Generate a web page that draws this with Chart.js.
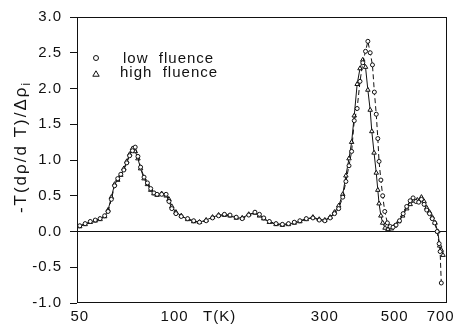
<!DOCTYPE html>
<html><head><meta charset="utf-8">
<script src="https://cdn.jsdelivr.net/npm/chart.js@4.4.1/dist/chart.umd.min.js"></script>
<style>html,body{margin:0;padding:0;background:#fff;}#wrap{width:464px;height:324px;}</style>
</head><body><div id="wrap"><canvas id="c" width="464" height="324"></canvas></div>
<script>
// ---- data ----
const lowT  = [50,52,54,56,58,60,61.5,63,64.5,66,67.5,69,70.5,72,73.5,75,76.5,78,80,82,84,86,88,91,94,96,98,101,105,110,115,120,126,132,138,144,150,157,164,172,180,186,192,200,210,220,230,240,250,262,275,288,300,312,322,332,342,350,358,365,372,380,388,396,404,411,418,425,431,437,442,446,452,458,465,474,484,494,505,518,532,546,560,572,584,596,608,620,632,645,658,670,682,692,697,703];
const lowV  = [0.08,0.11,0.14,0.16,0.18,0.22,0.28,0.45,0.64,0.74,0.80,0.86,0.96,1.06,1.13,1.18,1.05,0.90,0.76,0.68,0.60,0.54,0.52,0.52,0.52,0.42,0.32,0.25,0.21,0.18,0.15,0.13,0.15,0.19,0.22,0.24,0.23,0.20,0.18,0.23,0.27,0.24,0.19,0.14,0.11,0.10,0.11,0.13,0.15,0.18,0.19,0.16,0.15,0.19,0.25,0.32,0.48,0.70,0.92,1.12,1.55,1.72,2.10,2.36,2.52,2.66,2.50,2.33,1.95,1.64,1.30,0.98,0.72,0.50,0.28,0.12,0.07,0.06,0.09,0.15,0.25,0.35,0.43,0.47,0.42,0.41,0.45,0.38,0.30,0.25,0.18,0.12,0.00,-0.17,-0.28,-0.72];
const highT = [50,52,54,56,58,60,61.5,63,64.5,66,67.5,69,70.5,72,73.5,75,76.5,78,80,82,84,86,88,91,94,96,98,101,105,110,115,120,126,132,138,144,150,157,164,172,180,186,192,200,210,220,230,240,250,262,275,288,300,312,322,332,342,350,358,365,372,380,388,396,404,411,418,423,430,437,442,446,452,458,466,476,488,500,515,530,546,560,575,590,608,620,632,645,658,672,685,695,703,712];
const highV = [0.07,0.10,0.13,0.15,0.17,0.21,0.30,0.48,0.66,0.72,0.79,0.88,0.98,1.08,1.16,1.12,1.02,0.88,0.74,0.66,0.58,0.53,0.51,0.53,0.50,0.45,0.35,0.27,0.22,0.17,0.14,0.13,0.16,0.20,0.23,0.23,0.22,0.19,0.19,0.24,0.26,0.22,0.18,0.13,0.10,0.09,0.10,0.12,0.14,0.17,0.20,0.17,0.16,0.20,0.27,0.36,0.52,0.78,1.02,1.25,1.62,2.06,2.28,2.40,2.30,1.98,1.70,1.40,1.10,0.82,0.58,0.39,0.22,0.12,0.05,0.03,0.04,0.08,0.14,0.22,0.32,0.38,0.43,0.44,0.48,0.42,0.33,0.27,0.20,0.12,0.00,-0.20,-0.26,-0.33];
const seriesNames = ['low  fluence', 'high  fluence'];
const xTickValues = [50, 100, 300, 500, 700];
const xTitleText = 'T(K)';
const xTitlePos = 139;
const yTitleText = '-T(d\u03c1/d T)/\u0394\u03c1';
const yTitleSub = 'i';

const FONT = '"Liberation Sans", Arial, Helvetica, sans-serif';
Chart.defaults.font.family = FONT;
const ink = '#111';

const pts = (xs, ys) => xs.map((x, i) => ({x, y: ys[i]}));

const decor = {
  id: 'decor',
  beforeDraw(chart) { chart.ctx.letterSpacing = '1px'; },
  afterDraw(chart) {
    const ctx = chart.ctx, a = chart.chartArea;
    ctx.save();
    ctx.strokeStyle = ink; ctx.lineWidth = 1;
    ctx.strokeRect(Math.round(a.left) + 0.5, Math.round(a.top) + 0.5,
                   Math.round(a.right - a.left) - 1, Math.round(a.bottom - a.top) - 1);
    // y title
    ctx.fillStyle = ink;
    ctx.translate(21, 147);
    ctx.rotate(-Math.PI / 2);
    ctx.letterSpacing = '2px';
    ctx.font = '17px ' + FONT;
    ctx.textBaseline = 'middle';
    ctx.textAlign = 'left';
    const w = ctx.measureText(yTitleText).width;
    ctx.font = '12px ' + FONT;
    const ws = ctx.measureText(yTitleSub).width;
    const x0 = -(w + ws) / 2;
    ctx.font = '17px ' + FONT;
    ctx.fillText(yTitleText, x0, 0);
    ctx.font = '12px ' + FONT;
    ctx.fillText(yTitleSub, x0 + w, 6);
    ctx.restore();
    // legend
    ctx.save();
    ctx.letterSpacing = '1px';
    ctx.font = '15px ' + FONT;
    ctx.fillStyle = ink; ctx.strokeStyle = ink; ctx.lineWidth = 1;
    const rows = [{sy: 58, ty: 63}, {sy: 74, ty: 77}];
    chart.data.datasets.forEach((ds, i) => {
      const r = rows[i];
      ctx.fillStyle = '#fff';
      ctx.beginPath();
      if (ds.pointStyle === 'triangle') {
        const s = 3.2;
        ctx.moveTo(96, r.sy - s); ctx.lineTo(96 + s, r.sy + s * 0.7); ctx.lineTo(96 - s, r.sy + s * 0.7); ctx.closePath();
      } else {
        ctx.arc(96, r.sy, 2.5, 0, Math.PI * 2);
      }
      ctx.fill(); ctx.stroke();
      ctx.fillStyle = ink;
      ctx.textAlign = 'left'; ctx.textBaseline = 'alphabetic';
      ctx.fillText(ds.label, i === 0 ? 123 : 120, r.ty);
    });
    ctx.restore();
  }
};

new Chart(document.getElementById('c'), {
  type: 'scatter',
  data: {
    datasets: [
      { label: seriesNames[0], data: pts(lowT, lowV), showLine: true,
        borderColor: ink, borderWidth: 1, borderDash: [5, 3],
        pointStyle: 'circle', pointRadius: 2, pointBorderWidth: 1,
        pointBackgroundColor: '#fff', pointBorderColor: ink },
      { label: seriesNames[1], data: pts(highT, highV), showLine: true,
        borderColor: ink, borderWidth: 1,
        pointStyle: 'triangle', pointRadius: 2.6, pointBorderWidth: 1,
        pointBackgroundColor: '#fff', pointBorderColor: ink }
    ]
  },
  options: {
    responsive: false, animation: false, devicePixelRatio: 1,
    layout: { padding: { top: 15, right: 17, bottom: 0, left: 0 } },
    plugins: { legend: { display: false }, tooltip: { enabled: false } },
    scales: {
      x: {
        type: 'logarithmic', min: 49, max: 733,
        afterBuildTicks: s => { s.ticks = xTickValues.concat([xTitlePos]).sort((a, b) => a - b).map(v => ({value: v})); },
        afterFit: s => { s.height = 21; },
        ticks: { autoSkip: false, maxRotation: 0, padding: 5, color: ink,
                 font: { size: 15 },
                 callback: v => v === xTitlePos ? xTitleText : String(v) },
        grid: { color: 'rgba(0,0,0,0)', drawTicks: false },
        border: { display: false }
      },
      y: {
        min: -1, max: 3,
        afterFit: s => { s.width = 77; },
        ticks: { stepSize: 0.5, padding: 8, color: ink, font: { size: 15 },
                 callback: v => Number(v).toFixed(1) },
        grid: { color: c => (c.tick && c.tick.value === 0) ? ink : 'rgba(0,0,0,0)',
                tickColor: ink, tickLength: 7, lineWidth: 1 },
        border: { display: false }
      }
    }
  },
  plugins: [decor]
});
</script>
</body></html>
